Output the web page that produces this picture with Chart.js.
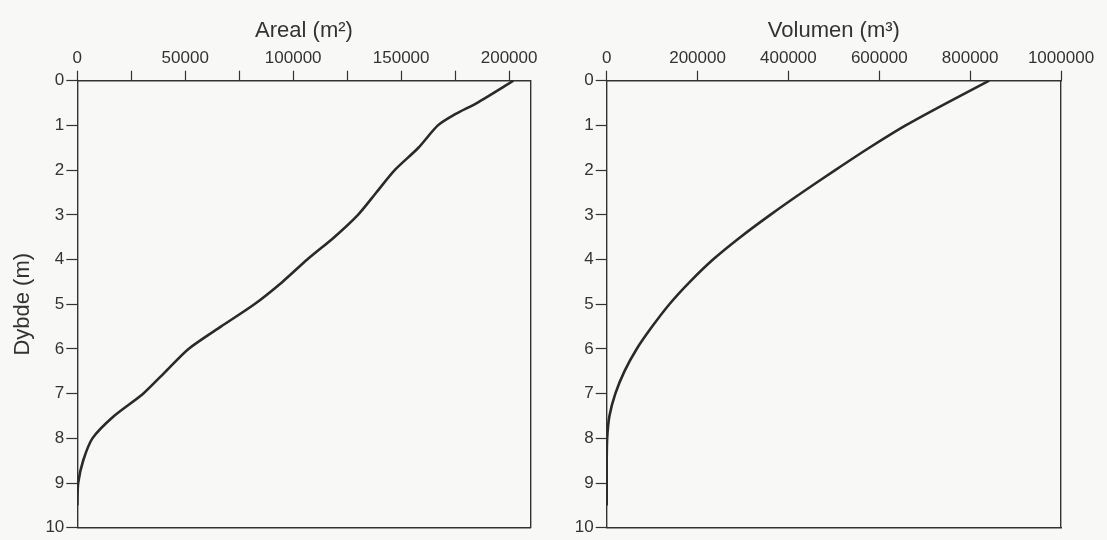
<!DOCTYPE html>
<html>
<head>
<meta charset="utf-8">
<script src="https://cdn.jsdelivr.net/npm/chart.js@4/dist/chart.umd.min.js"></script>
<style>
  body { margin: 0; background: #f8f8f6; }
  #wrap { position: relative; width: 1107px; height: 540px; }
  canvas { position: absolute; top: 0; }
  #areal { left: 0; }
  #volumen { left: 553px; }
</style>
</head>
<body>
<div id="wrap">
  <canvas id="areal" width="553" height="540"></canvas>
  <canvas id="volumen" width="554" height="540"></canvas>
</div>
<script>
// Dybde (m) og tilhørende areal / volumen
const arealDepth = [0, 0.5, 0.75, 1, 1.5, 2, 2.5, 3, 3.5, 4, 4.5, 5, 5.5, 6, 6.5, 7, 7.5, 8, 8.5, 9, 9.5]
const arealValues = [202000, 185000, 175000, 167000, 158000, 147000, 138500, 130000, 119000, 106500, 95000, 82000, 66500, 51500, 41000, 30500, 17000, 7000, 2700, 400, 0]

const volumenDepth = [0, 0.5, 1, 1.5, 2, 2.5, 3, 3.5, 4, 4.5, 5, 5.5, 6, 6.5, 7, 7.5, 8, 8.5, 9, 9.5]
const volumenValues = [842000, 748000, 658000, 578000, 503000, 430000, 360000, 294000, 234000, 183000, 138000, 100000, 66000, 39000, 19000, 6000, 1000, 0, 0, 0]

// akser
const depthTicks = [0, 1, 2, 3, 4, 5, 6, 7, 8, 9, 10]
const arealTicks = [0, 25000, 50000, 75000, 100000, 125000, 150000, 175000, 200000]
const arealLabelled = [0, 50000, 100000, 150000, 200000]
const arealMax = 210000
const volumenTicks = [0, 200000, 400000, 600000, 800000, 1000000]
const volumenMax = 1000000

const ink = '#333333'
const tickFont = { family: "'Liberation Sans', Arial, sans-serif", size: 17 }
const titleFont = { family: "'Liberation Sans', Arial, sans-serif", size: 22 }

const setTicks = values => s => { s.ticks = values.map(v => ({ value: v })) }

function makeChart(id, depth, values, opts) {
  const points = depth.map((d, i) => ({ x: values[i], y: d }))
  const frame = { display: true, color: ink, width: 1.4 }
  return new Chart(document.getElementById(id), {
    type: 'line',
    data: {
      datasets: [{
        data: points,
        borderColor: '#2a2a2a',
        borderWidth: 2.6,
        pointRadius: 0,
        tension: 0.25,
        fill: false
      }]
    },
    options: {
      responsive: false,
      animation: false,
      devicePixelRatio: 1,
      layout: { padding: { left: 0, right: opts.padRight, top: 0, bottom: 8.3 } },
      plugins: { legend: { display: false }, tooltip: { enabled: false } },
      scales: {
        x: {
          type: 'linear',
          position: 'top',
          min: 0,
          max: opts.max,
          border: frame,
          grid: { drawOnChartArea: false, drawTicks: true, tickLength: 10, color: ink, tickWidth: 1.2 },
          afterBuildTicks: setTicks(opts.ticks),
          ticks: {
            autoSkip: false,
            maxRotation: 0,
            padding: 2,
            color: ink,
            font: tickFont,
            callback: v => (opts.labelled.includes(v) ? String(v) : '')
          },
          title: {
            display: true,
            text: opts.title,
            color: ink,
            font: titleFont,
            padding: { top: 18, bottom: 0 }
          },
          afterFit: s => { s.height = 80.7 }
        },
        x2: {
          type: 'linear',
          position: 'bottom',
          min: 0,
          max: opts.max,
          border: frame,
          grid: { display: true, drawOnChartArea: false, drawTicks: false },
          ticks: { display: false },
          afterFit: s => { s.height = 0 }
        },
        y: {
          type: 'linear',
          position: 'left',
          reverse: true,
          min: 0,
          max: 10,
          border: frame,
          grid: { drawOnChartArea: false, drawTicks: true, tickLength: 11, color: ink, tickWidth: 1.2 },
          afterBuildTicks: setTicks(depthTicks),
          ticks: { padding: 2, color: ink, font: tickFont },
          title: {
            display: !!opts.yTitle,
            text: opts.yTitle || '',
            color: ink,
            font: titleFont,
            padding: { top: 10, bottom: 0 }
          },
          afterFit: s => { s.width = opts.axisLeft }
        },
        y2: {
          type: 'linear',
          position: 'right',
          reverse: true,
          min: 0,
          max: 10,
          border: frame,
          grid: { display: true, drawOnChartArea: false, drawTicks: false },
          ticks: { display: false },
          afterFit: s => { s.width = 0 }
        }
      }
    }
  })
}

makeChart('areal', arealDepth, arealValues, {
  title: 'Areal (m²)',
  yTitle: 'Dybde (m)',
  max: arealMax,
  ticks: arealTicks,
  labelled: arealLabelled,
  axisLeft: 77.3,
  padRight: 22.3
})

makeChart('volumen', volumenDepth, volumenValues, {
  title: 'Volumen (m³)',
  max: volumenMax,
  ticks: volumenTicks,
  labelled: volumenTicks,
  axisLeft: 53.7,
  padRight: 46
})
</script>
</body>
</html>
